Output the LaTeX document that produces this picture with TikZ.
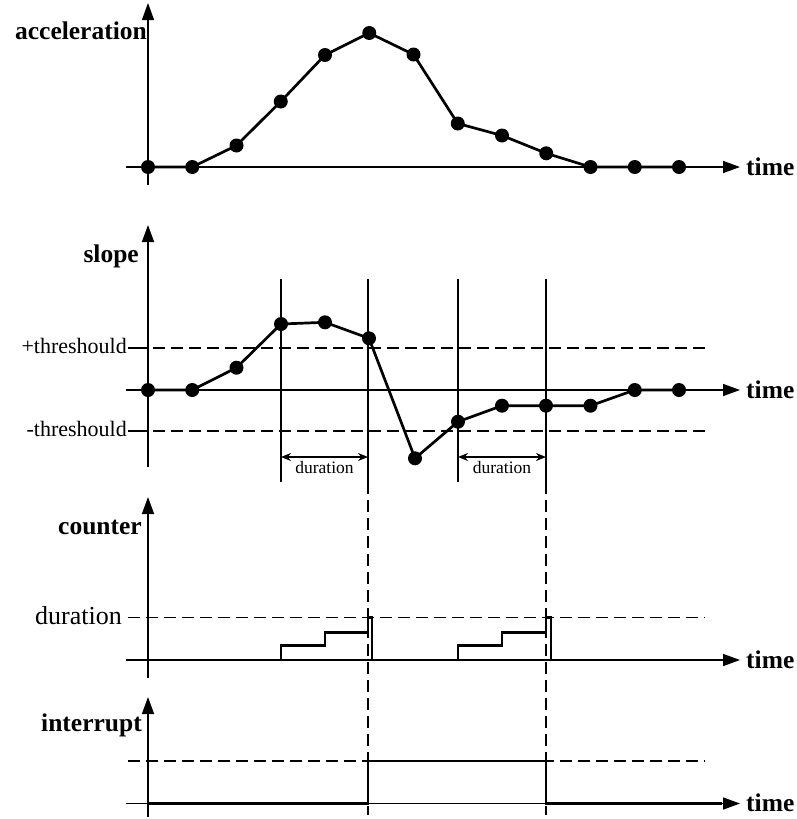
\documentclass[tikz,border=0pt]{standalone}
\usepackage{fontspec}
\setmainfont{Liberation Serif}
\usetikzlibrary{arrows.meta}
\begin{document}
\begin{tikzpicture}[x=1pt,y=-1pt,
  axis/.style={line width=1.5pt,-{Triangle[length=17pt,width=12pt]}},
  plain/.style={line width=1.5pt},
  sig/.style={line width=2.7pt,line join=miter},
  dot/.style={circle,fill=black,inner sep=0pt,minimum size=14pt},
  dsh/.style={line width=1.5pt,dash pattern=on 12pt off 6pt},
  lab/.style={font=\fontsize{25.5}{30}\selectfont\bfseries,inner sep=0pt},
  thr/.style={font=\fontsize{22}{26}\selectfont,inner sep=0pt},
  durlab/.style={font=\fontsize{17.5}{20}\selectfont,inner sep=0pt},
  durarrow/.style={line width=1.7pt,{Stealth[length=10pt,width=8pt]}-{Stealth[length=10pt,width=8pt]}}
]
\useasboundingbox (0,0) rectangle (797,819);

% ---------------- acceleration panel ----------------
\coordinate (aB) at (148,185); \coordinate (aT) at (148,3);
\coordinate (aL) at (126,167); \coordinate (aR) at (740,167);
\draw[axis] (aB) -- (aT);
\draw[axis] (aL) -- (aR);
\node[lab,anchor=base east] (acclab) at (147,39.5) {acceleration};
\node[lab,anchor=base west] (t1) at (746,175) {time};
\foreach \i/\x/\y in {0/148/167,1/192.25/167,2/236.5/145.5,3/280.75/101.5,4/325/55,5/369.25/33,6/413.5/54.5,7/457.75/123.5,8/502/135.5,9/546.25/153.3,10/590.5/167,11/634.75/167,12/679/167}
  \node[dot] (a\i) at (\x,\y) {};
\draw[sig] (a0.center) -- (a1.center) -- (a2.center) -- (a3.center) -- (a4.center) -- (a5.center) -- (a6.center) -- (a7.center) -- (a8.center) -- (a9.center) -- (a10.center) -- (a11.center) -- (a12.center);

% ---------------- slope panel ----------------
\coordinate (sB) at (148,467); \coordinate (sT) at (148,225);
\coordinate (sL) at (126,390); \coordinate (sR) at (740,390);
\draw[axis] (sB) -- (sT);
\draw[axis] (sL) -- (sR);
\node[lab,anchor=base east] (slopelab) at (139,262.5) {slope};
\node[lab,anchor=base west] (t2) at (746,398) {time};
\node[thr,anchor=base east] (pthr) at (127,353) {+threshould};
\node[thr,anchor=base east] (mthr) at (127,436) {-threshould};
\draw[plain] (128,348) -- (148,348);
\draw[plain] (128,431) -- (148,431);
\draw[dsh,dash phase=13pt] (148,348) -- (705,348);
\draw[dsh,dash phase=13pt] (148,431) -- (705,431);
% vertical markers
\foreach \n/\x in {v1/281,v2/368,v3/458,v4/546}{
  \coordinate (\n t) at (\x,279);
  \coordinate (\n b) at (\x,482);
  \draw[plain] (\n t) -- (\n b);
}
\coordinate (v2e) at (368,815);
\coordinate (v4e) at (546,815);
\draw[dsh] (v2b) -- (v2e);
\draw[dsh] (v4b) -- (v4e);
% duration arrows
\coordinate (d1a) at (281,457); \coordinate (d1b) at (368,457);
\coordinate (d2a) at (458,457); \coordinate (d2b) at (546,457);
\draw[durarrow] (d1a) -- (d1b);
\draw[durarrow] (d2a) -- (d2b);
\node[durlab,anchor=base] (dl1) at (324.5,473) {duration};
\node[durlab,anchor=base] (dl2) at (502,473) {duration};
% data
\foreach \i/\x/\y in {0/148/390,1/192.25/390,2/236.5/367.7,3/281/324,4/325/322.3,5/369/338.3,6/415/458.3,7/458/421.7,8/502/405.7,9/546/405.7,10/590.5/405.7,11/634.75/390,12/679/390}
  \node[dot] (s\i) at (\x,\y) {};
\draw[sig] (s0.center) -- (s1.center) -- (s2.center) -- (s3.center) -- (s4.center) -- (s5.center) -- (s6.center) -- (s7.center) -- (s8.center) -- (s9.center) -- (s10.center) -- (s11.center) -- (s12.center);

% ---------------- counter panel ----------------
\coordinate (cB) at (148,678); \coordinate (cT) at (148,497);
\coordinate (cL) at (126,660); \coordinate (cR) at (740,660);
\draw[axis] (cB) -- (cT);
\draw[axis] (cL) -- (cR);
\node[lab,anchor=base east] (countlab) at (142,534) {counter};
\node[lab,anchor=base west] (t3) at (746,668) {time};
\node[thr,font=\fontsize{26}{30}\selectfont,anchor=base east] (durlev) at (122,624) {duration};
\draw[dsh] (128,617.5) -- (705,617.5);
\draw[sig] (148,660) -- (281,660) -- (281,645.5) -- (325,645.5) -- (325,632.5) -- (368,632.5)
  -- (368,617.5) -- (372,617.5) -- (372,660) -- (458,660) -- (458,645.5) -- (502,645.5)
  -- (502,632.5) -- (546,632.5) -- (546,617.5) -- (551,617.5) -- (551,660) -- (722,660);

% ---------------- interrupt panel ----------------
\coordinate (iB) at (148,817); \coordinate (iT) at (148,697);
\coordinate (iL) at (126,803.5); \coordinate (iR) at (740,803.5);
\draw[axis] (iB) -- (iT);
\draw[axis] (iL) -- (iR);
\node[lab,anchor=base east] (intlab) at (142,731.5) {interrupt};
\node[lab,anchor=base west] (t4) at (746,811) {time};
\draw[dsh] (128,761) -- (705,761);
\draw[sig] (148,803.5) -- (368,803.5) -- (368,761) -- (546,761) -- (546,803.5) -- (722,803.5);
\end{tikzpicture}
\end{document}
